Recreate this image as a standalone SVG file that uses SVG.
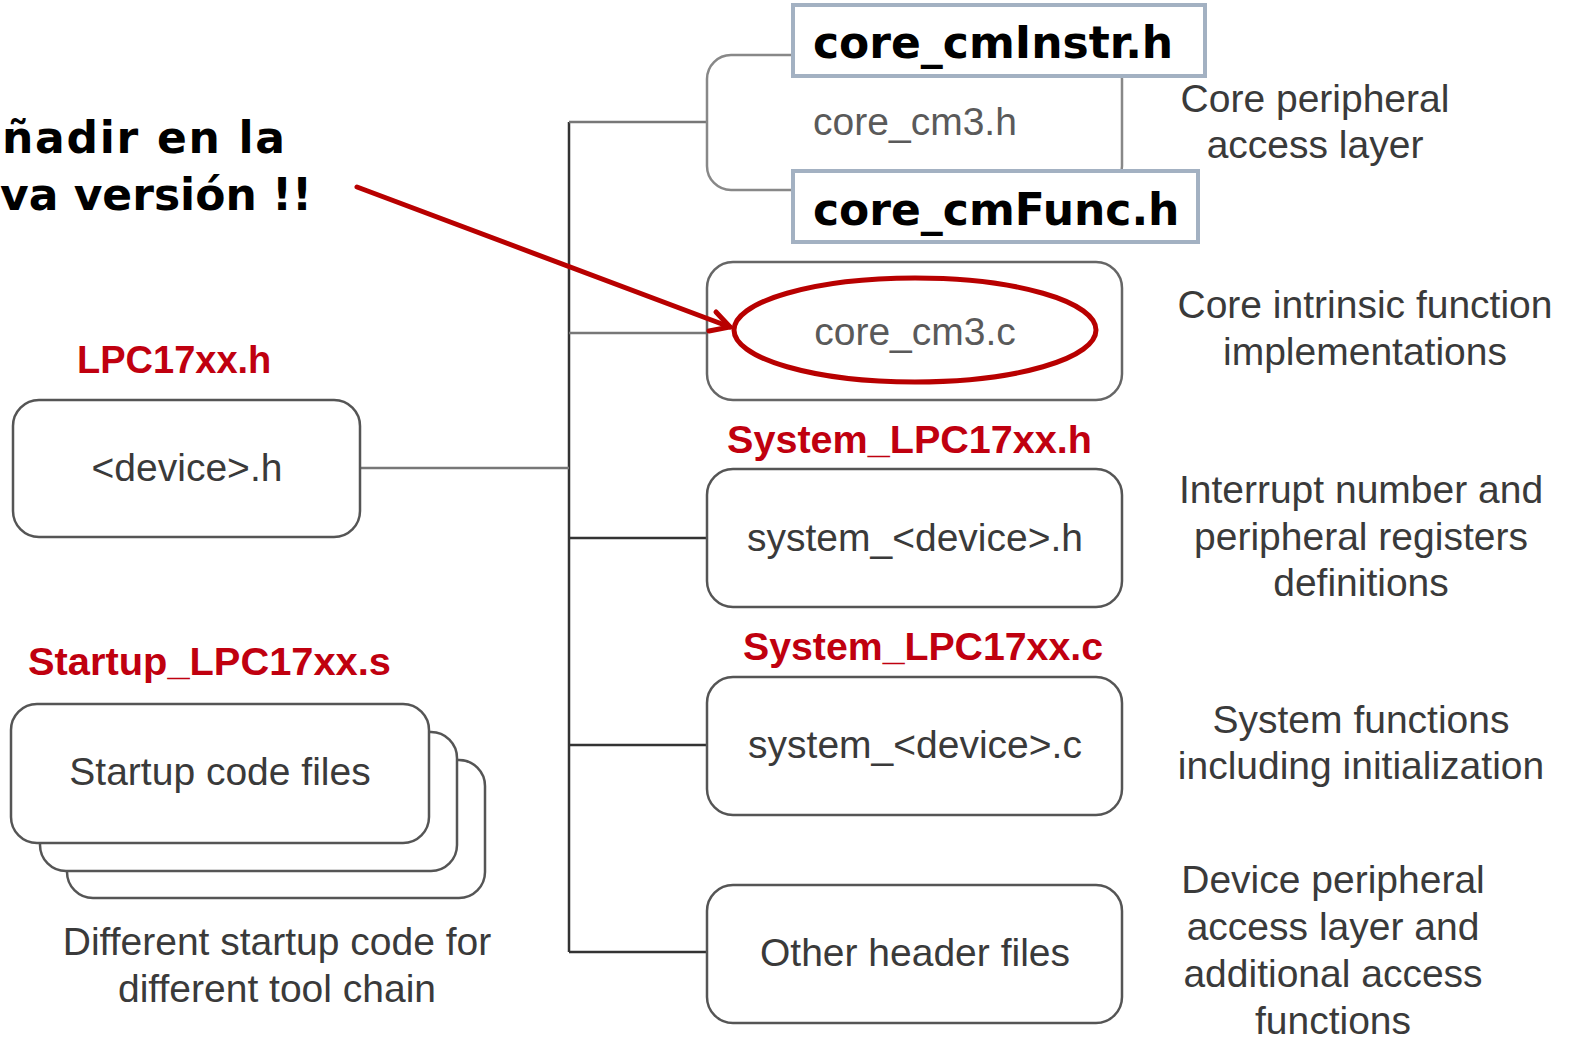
<svg xmlns="http://www.w3.org/2000/svg" width="1571" height="1043" viewBox="0 0 1571 1043">
<defs>
<style>
.box{fill:#fff;stroke:#555;stroke-width:2.5}
.lbl{font-family:"Liberation Sans",Arial,sans-serif;font-size:39px;fill:#3a3a3a;text-anchor:middle}
.lite{fill:#5a5a5a}
.red{font-family:"Liberation Sans",Arial,sans-serif;font-weight:bold;font-size:38px;fill:#c0000f}
.over{fill:#fff;stroke:#a3b1c2;stroke-width:4}
.big{font-family:"DejaVu Sans",Verdana,sans-serif;font-weight:bold;font-size:44px;fill:#000}
.wire{stroke:#333;stroke-width:2.5;fill:none}
.wirel{stroke:#777;stroke-width:2.5;fill:none}
.ann{stroke:#b80000;stroke-width:5;fill:none;stroke-linecap:round}
</style>
</defs>
<rect width="1571" height="1043" fill="#fff"/>

<g id="connectors">
<path class="wire" d="M569 122 V952"/>
<path class="wirel" d="M569 122 H707"/>
<path class="wirel" d="M569 333 H707"/>
<path class="wirel" d="M360 468 H569"/>
<path class="wire" d="M569 538 H707"/>
<path class="wire" d="M569 745 H707"/>
<path class="wire" d="M569 952 H707"/>
</g>

<g id="core_cm3_h">
<rect class="box" x="707" y="55" width="415" height="135" rx="24" style="stroke:#888"/>
<text class="lbl lite" x="915" y="135" font-size="38">core_cm3.h</text>
</g>
<g id="core_cmInstr_h">
<rect class="over" x="793" y="5" width="412" height="71"/>
<text class="big" x="813" y="58">core_cmInstr.h</text>
</g>
<g id="core_cmFunc_h">
<rect class="over" x="793" y="171" width="405" height="71"/>
<text class="big" x="813" y="225">core_cmFunc.h</text>
</g>

<g id="core_cm3_c">
<rect class="box" x="707" y="262" width="415" height="138" rx="26" style="stroke:#666"/>
<text class="lbl lite" x="915" y="345">core_cm3.c</text>
</g>

<g id="device_h">
<text class="red" x="77" y="373">LPC17xx.h</text>
<rect class="box" x="13" y="400" width="347" height="137" rx="26"/>
<text class="lbl" x="187" y="481">&lt;device&gt;.h</text>
</g>

<g id="system_device_h">
<text class="red" x="727" y="453" textLength="365" lengthAdjust="spacingAndGlyphs">System_LPC17xx.h</text>
<rect class="box" x="707" y="469" width="415" height="138" rx="26"/>
<text class="lbl" x="915" y="551">system_&lt;device&gt;.h</text>
</g>

<g id="system_device_c">
<text class="red" x="743" y="660" textLength="360" lengthAdjust="spacingAndGlyphs">System_LPC17xx.c</text>
<rect class="box" x="707" y="677" width="415" height="138" rx="26"/>
<text class="lbl" x="915" y="758">system_&lt;device&gt;.c</text>
</g>

<g id="other_headers">
<rect class="box" x="707" y="885" width="415" height="138" rx="26"/>
<text class="lbl" x="915" y="966">Other header files</text>
</g>

<g id="startup">
<text class="red" x="28" y="675" textLength="363" lengthAdjust="spacingAndGlyphs">Startup_LPC17xx.s</text>
<rect class="box" x="67" y="760" width="418" height="138" rx="26"/>
<rect class="box" x="40" y="732" width="417" height="139" rx="26"/>
<rect class="box" x="11" y="704" width="418" height="139" rx="26"/>
<text class="lbl" x="220" y="785">Startup code files</text>
<text class="lbl" x="277" y="955">Different startup code for</text>
<text class="lbl" x="277" y="1002">different tool chain</text>
</g>

<g id="descriptions">
<text class="lbl" x="1315" y="112">Core peripheral</text>
<text class="lbl" x="1315" y="158">access layer</text>
<text class="lbl" x="1365" y="318">Core intrinsic function</text>
<text class="lbl" x="1365" y="365">implementations</text>
<text class="lbl" x="1361" y="503">Interrupt number and</text>
<text class="lbl" x="1361" y="550">peripheral registers</text>
<text class="lbl" x="1361" y="596">definitions</text>
<text class="lbl" x="1361" y="733">System functions</text>
<text class="lbl" x="1361" y="779">including initialization</text>
<text class="lbl" x="1333" y="893">Device peripheral</text>
<text class="lbl" x="1333" y="940">access layer and</text>
<text class="lbl" x="1333" y="987">additional access</text>
<text class="lbl" x="1333" y="1034">functions</text>
</g>

<g id="annotation">
<text class="big" x="2" y="153" font-size="46" textLength="283" lengthAdjust="spacing">ñadir en la</text>
<text class="big" x="0" y="210" font-size="46">va versión !!</text>
<ellipse class="ann" cx="915" cy="330" rx="181" ry="52"/>
<path class="ann" d="M357 187 L730 327"/>
<path class="ann" d="M716 312 L730 327 L709 331"/>
</g>
</svg>
